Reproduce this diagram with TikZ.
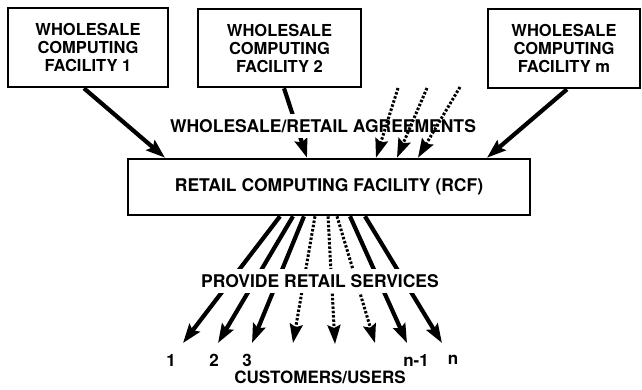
\documentclass[tikz,border=0pt]{standalone}
\usepackage{fontspec}
\setmainfont{TeX Gyre Heros}
\usetikzlibrary{arrows.meta}

\begin{document}
\begin{tikzpicture}[
    x=1pt,
    y=-1pt,
    >={Stealth[length=19pt, width=13pt, inset=3pt]},
    facility/.style={draw, line width=2.6pt, align=center, inner sep=0pt,
        font=\bfseries\fontsize{16.5}{18}\selectfont},
    feed/.style={->, line width=4.2pt},
    feedopt/.style={->, line width=3pt, dash pattern=on 2.5pt off 1.8pt},
    lab/.style={font=\bfseries\fontsize{17.5}{20}\selectfont, fill=white, inner xsep=2pt, inner ysep=5pt},
    num/.style={font=\bfseries\fontsize{17}{20}\selectfont, inner sep=1pt}
]
\useasboundingbox (0,0) rectangle (642,389);

% --- Wholesale facilities ---
\node[facility, minimum width=160pt, minimum height=79pt] (wcf1) at (88,47.5) {WHOLESALE\\COMPUTING\\FACILITY 1};
\node[facility, minimum width=163pt, minimum height=78pt] (wcf2) at (279.5,48) {WHOLESALE\\COMPUTING\\FACILITY 2};
\node[facility, minimum width=152pt, minimum height=79pt] (wcfm) at (564,48.5) {WHOLESALE\\COMPUTING\\FACILITY m};

% --- Retail facility ---
\node[facility, minimum width=402pt, minimum height=56pt, font=\bfseries\fontsize{17.5}{20}\selectfont] (rcf) at (329,187) {RETAIL COMPUTING FACILITY (RCF)};

% free ends of the dotted agreements
\coordinate (a1) at (398,88);
\coordinate (a2) at (427,88);
\coordinate (a3) at (460,87);

% --- Agreements (wholesale -> retail) ---
\path
([xshift=-4pt]wcf1.south) edge[feed] ([xshift=-164pt]rcf.north)
([xshift=4.5pt]wcf2.south) edge[feed] ([xshift=-22pt]rcf.north)
([xshift=3pt]wcfm.south) edge[feed] ([xshift=158pt]rcf.north);

\node[lab] (agree) at (323,126) {WHOLESALE/RETAIL AGREEMENTS};

\path
(a1) edge[feedopt] ([xshift=47pt]rcf.north)
(a2) edge[feedopt] ([xshift=68pt]rcf.north)
(a3) edge[feedopt] ([xshift=89pt]rcf.north);

% --- Customers ---
\coordinate (t1) at (183,343);
\coordinate (t2) at (218,343);
\coordinate (t3) at (252,343);
\coordinate (t4) at (293,343);
\coordinate (t5) at (335,344);
\coordinate (t6) at (375,343);
\coordinate (t7) at (407,343);
\coordinate (t8) at (442,343);

\path
([xshift=-49pt]rcf.south) edge[feed] (t1)
([xshift=-36pt]rcf.south) edge[feed] (t2)
([xshift=-25pt]rcf.south) edge[feed] (t3)
([xshift=-14pt]rcf.south) edge[feedopt] (t4)
([xshift=-1pt]rcf.south) edge[feedopt] (t5)
([xshift=8pt]rcf.south) edge[feedopt] (t6)
([xshift=21pt]rcf.south) edge[feed] (t7)
([xshift=36pt]rcf.south) edge[feed] (t8);

\node[lab] (serv) at (320,281) {PROVIDE RETAIL SERVICES};

\node[num] (c1) at (171,360) {1};
\node[num] (c2) at (214,360) {2};
\node[num] (c3) at (247,360) {3};
\node[num] (cn1) at (416,360) {n-1};
\node[num] (cn) at (453,360) {n};
\node[num] (users) at (320,377) {CUSTOMERS/USERS};

\end{tikzpicture}
\end{document}
